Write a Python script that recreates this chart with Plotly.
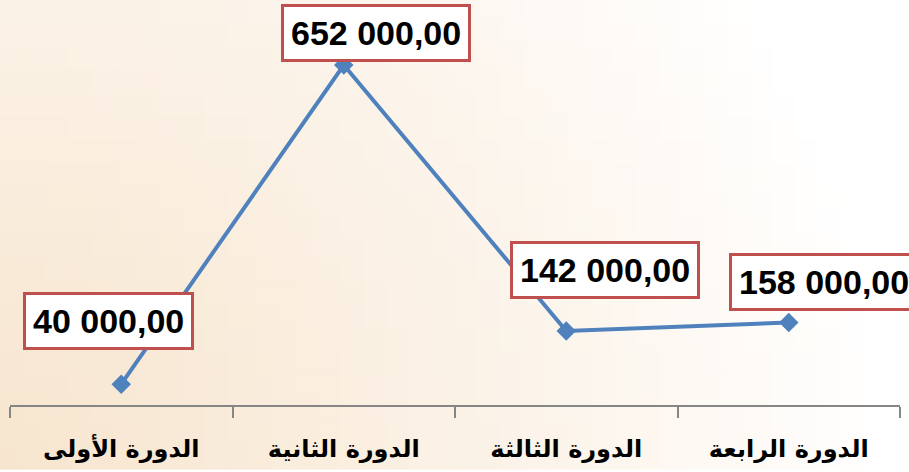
import plotly.graph_objects as go
import math

# data
categories = ['الدورة الأولى', 'الدورة الثانية', 'الدورة الثالثة', 'الدورة الرابعة']
values = [40000, 652000, 142000, 158000]
value_labels = ['40 000,00', '652 000,00', '142 000,00', '158 000,00']

# label box offsets (px) from each point
label_dx = [-13, 32, 39, 35]
label_dy = [63, 32, 61, 41]

W, H = 909, 472
LINE_BLUE = '#4F81BD'
BOX_RED = '#C0504D'

fig = go.Figure()

fig.add_trace(go.Scatter(
    x=categories,
    y=values,
    mode='lines+markers',
    line=dict(color=LINE_BLUE, width=4),
    marker=dict(symbol='diamond', size=15, color=LINE_BLUE),
    hoverinfo='x+y',
    showlegend=False,
))

for cat, val, txt, dx, dy in zip(categories, values, value_labels, label_dx, label_dy):
    fig.add_annotation(
        x=cat, y=val, text='<b>' + txt + '</b>',
        showarrow=False, xshift=dx, yshift=dy,
        font=dict(family='Liberation Sans, Arial, sans-serif', size=34, color='black'),
        bgcolor='white', bordercolor=BOX_RED, borderwidth=3, borderpad=7,
    )

# soft radial background (peach at bottom-left fading to white)
ml, mr, mt, mb = 10, 9, 40, 65
pw, ph = W - ml - mr, H - mt - mb
nx, ny = 40, 20
peach = (247, 229, 206)
shapes = []
for i in range(nx):
    for j in range(ny):
        px0, px1 = W * i / nx, W * (i + 1) / nx
        py0, py1 = H * j / ny, H * (j + 1) / ny
        cx, cy = (px0 + px1) / 2, (py0 + py1) / 2
        d = math.hypot(cx, H - cy)
        t = max(0.0, 1 - d / 880)
        t = t ** 0.9
        col = tuple(round(255 + (p - 255) * t) for p in peach)
        shapes.append(dict(
            type='rect', layer='below', line=dict(width=0),
            xref='paper', yref='paper',
            x0=(px0 - ml) / pw, x1=(px1 - ml) / pw + 0.002,
            y0=(H - py1 - mb) / ph, y1=(H - py0 - mb) / ph + 0.003,
            fillcolor='rgb(%d,%d,%d)' % col,
        ))

fig.update_layout(
    width=W, height=H,
    margin=dict(l=ml, r=mr, t=mt, b=mb),
    paper_bgcolor='rgba(0,0,0,0)',
    plot_bgcolor='rgba(0,0,0,0)',
    shapes=shapes,
    xaxis=dict(
        type='category', range=[-0.5, 3.5], tickson='boundaries',
        ticks='outside', ticklen=11, tickwidth=2, tickcolor='#868686',
        showline=True, linecolor='#868686', linewidth=2,
        showgrid=False, zeroline=False,
        tickfont=dict(family='DejaVu Sans', size=24, color='black', weight='bold'),
        ticklabelstandoff=21,
        fixedrange=True,
    ),
    yaxis=dict(range=[0, 700000], visible=False, fixedrange=True),
)

fig.write_html('out.html', config={'displayModeBar': False},
               post_script="document.body.style.margin='0';")
